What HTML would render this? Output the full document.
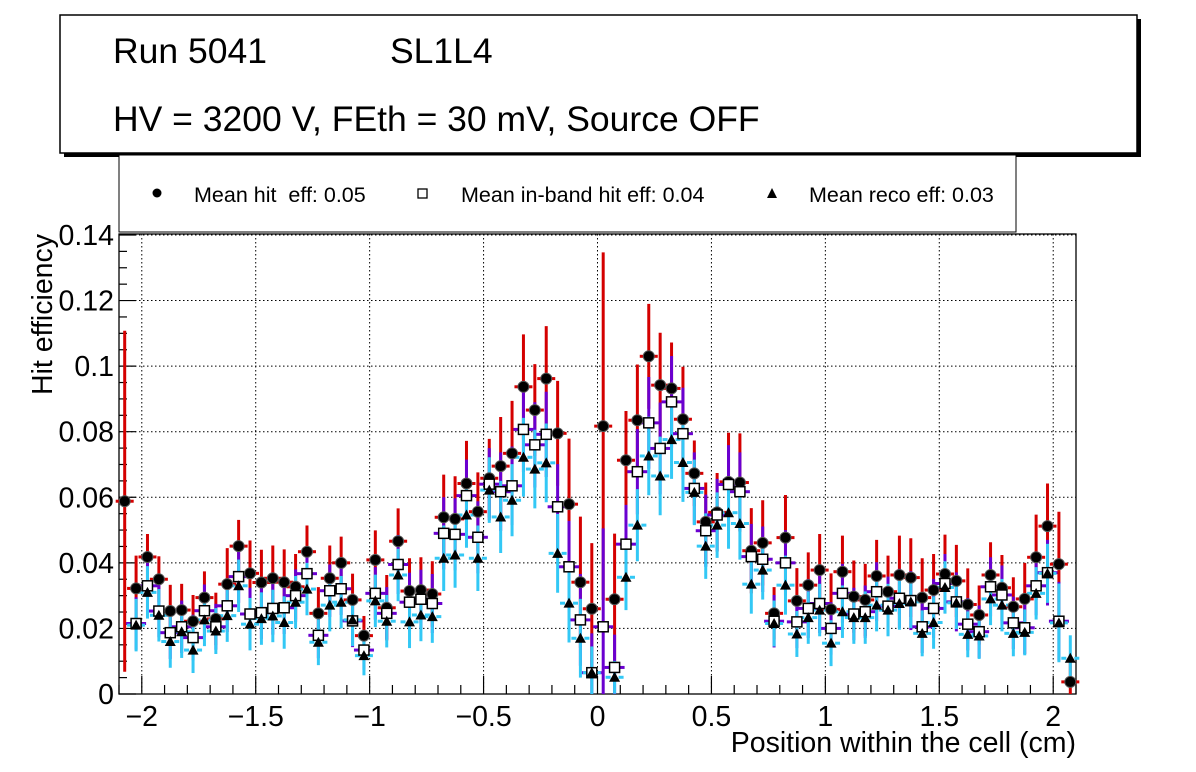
<!DOCTYPE html>
<html><head><meta charset="utf-8"><style>
html,body{margin:0;padding:0;background:#fff;}
svg{display:block;font-family:"Liberation Sans",sans-serif;}
</style></head><body>
<svg id="chart" width="1196" height="772" viewBox="0 0 1196 772" xmlns="http://www.w3.org/2000/svg">
<rect x="0" y="0" width="1196" height="772" fill="#fff"/>
<g>
<rect x="64" y="19" width="1077" height="138" fill="#000"/>
<rect x="60" y="15" width="1077" height="138" fill="#fff" stroke="#000" stroke-width="1.5"/>
<text x="113" y="63" font-size="35.5">Run 5041</text>
<text x="390" y="63" font-size="35.5">SL1L4</text>
<text x="113" y="131" font-size="35.5">HV = 3200 V, FEth = 30 mV, Source OFF</text>
</g>
<g>
<rect x="119" y="155" width="897" height="77" fill="#fff" stroke="#000" stroke-width="1"/>
<circle cx="157" cy="193" r="4.5" fill="#000"/>
<text x="194" y="202" font-size="21.5" style="white-space:pre" xml:space="preserve">Mean hit  eff: 0.05</text>
<rect x="418" y="189" width="9" height="9" fill="#fff" stroke="#000" stroke-width="1.3"/>
<text x="461" y="202" font-size="21.5">Mean in-band hit eff: 0.04</text>
<polygon points="772,188 767,198 777,198" fill="#000"/>
<text x="809" y="202" font-size="21.5">Mean reco eff: 0.03</text>
</g>
<g id="axes"></g>
<g id="marks"></g>
<text x="1076" y="752" font-size="28.5" text-anchor="end">Position within the cell (cm)</text>
<text transform="translate(52,395) rotate(-90)" font-size="28.5">Hit efficiency</text>
</svg>
<script>
const xTicks=[-2,-1.5,-1,-0.5,0,0.5,1,1.5,2];
const xTickLabels=["\u22122","\u22121.5","\u22121","\u22120.5","0","0.5","1","1.5","2"];
const yTicks=[0,0.02,0.04,0.06,0.08,0.1,0.12,0.14];
const yTickLabels=["0","0.02","0.04","0.06","0.08","0.1","0.12","0.14"];
const binStart=-2.075, binWidth=0.05;
const hitEff=[0.0588,0.0322,0.0418,0.035,0.0253,0.0256,0.0222,0.0294,0.0229,0.0335,0.0451,0.0368,0.034,0.0353,0.0341,0.0327,0.0434,0.0246,0.0353,0.040,0.0287,0.0178,0.0409,0.0263,0.0466,0.0314,0.0317,0.0305,0.0539,0.0534,0.0642,0.0556,0.0658,0.0695,0.0734,0.0937,0.0866,0.0962,0.0795,0.0579,0.0341,0.026,0.0817,0.0289,0.0713,0.0835,0.103,0.0942,0.0932,0.0838,0.0673,0.0525,0.0554,0.0647,0.0645,0.0437,0.0461,0.0246,0.0477,0.0284,0.0332,0.0378,0.0258,0.0373,0.0297,0.0287,0.036,0.0312,0.0363,0.0355,0.0294,0.0317,0.0366,0.0345,0.0273,0.0241,0.0363,0.0324,0.0266,0.029,0.0417,0.0512,0.0396,0.0037];
const hitErr=[0.052,0.010,0.007,0.007,0.008,0.008,0.008,0.008,0.008,0.011,0.008,0.010,0.010,0.010,0.010,0.010,0.008,0.008,0.010,0.008,0.008,0.006,0.009,0.010,0.010,0.010,0.010,0.010,0.013,0.013,0.013,0.012,0.012,0.015,0.016,0.016,0.014,0.016,0.016,0.020,0.020,0.020,0.053,0.020,0.015,0.017,0.016,0.016,0.014,0.016,0.010,0.012,0.012,0.015,0.015,0.013,0.013,0.008,0.013,0.010,0.010,0.011,0.011,0.011,0.011,0.011,0.011,0.011,0.012,0.012,0.012,0.011,0.012,0.011,0.011,0.009,0.010,0.010,0.009,0.011,0.013,0.013,0.016,0.006];
const inbandEff=[null,0.0215,0.033,0.0253,0.0187,0.0205,0.0172,0.0254,0.0205,0.0269,0.0358,0.0244,0.0248,0.0261,0.0263,0.030,0.0367,0.0179,0.0315,0.0321,0.0223,0.0134,0.0307,0.0246,0.0395,0.028,0.0289,0.0276,0.049,0.0487,0.0605,0.0478,0.064,0.0617,0.0635,0.0807,0.076,0.0792,0.0571,0.0388,0.0226,0.0065,0.0205,0.0081,0.0457,0.0678,0.0827,0.0749,0.0891,0.0794,0.0627,0.0498,0.0546,0.0639,0.0617,0.0419,0.0411,0.0222,0.040,0.022,0.0261,0.0276,0.020,0.0307,0.0244,0.0251,0.0312,0.0268,0.0292,0.0285,0.0205,0.0261,0.0337,0.0281,0.0213,0.019,0.0327,0.0302,0.0217,0.0202,0.033,0.037,0.0222,null];
const inbandErr=[0,0.008,0.008,0.008,0.008,0.008,0.007,0.008,0.007,0.008,0.008,0.008,0.008,0.008,0.008,0.008,0.008,0.007,0.008,0.008,0.008,0.006,0.008,0.008,0.009,0.009,0.009,0.009,0.011,0.011,0.011,0.011,0.011,0.012,0.012,0.013,0.013,0.013,0.013,0.014,0.014,0.012,0.030,0.010,0.012,0.013,0.014,0.014,0.014,0.014,0.011,0.011,0.011,0.012,0.012,0.010,0.010,0.008,0.010,0.008,0.009,0.009,0.008,0.009,0.008,0.008,0.009,0.009,0.009,0.009,0.008,0.009,0.009,0.009,0.008,0.008,0.009,0.009,0.008,0.008,0.009,0.010,0.012,0];
const recoEff=[null,0.021,0.031,0.024,0.016,0.019,0.0134,0.0226,0.0192,0.0239,0.033,0.0213,0.023,0.0238,0.0218,0.028,0.032,0.0158,0.0271,0.028,0.0226,0.0117,0.0284,0.0222,0.0363,0.022,0.0241,0.0236,0.0414,0.0424,0.0546,0.0414,0.0622,0.054,0.0591,0.0722,0.0686,0.0705,0.0429,0.0277,0.017,0.0065,null,0.0051,0.0356,0.0515,0.0726,0.0665,0.0776,0.0706,0.0615,0.0451,0.0515,0.0553,0.052,0.0335,0.0378,0.0215,0.0332,0.0183,0.0233,0.0256,0.0155,0.0251,0.0233,0.0233,0.0271,0.0256,0.0276,0.0281,0.0185,0.0218,0.0325,0.0278,0.0182,0.0177,0.029,0.0271,0.0185,0.0188,0.0307,0.0368,0.0217,0.0109];
const recoErr=[0,0.008,0.008,0.008,0.008,0.008,0.007,0.008,0.007,0.008,0.008,0.008,0.008,0.008,0.008,0.008,0.008,0.007,0.008,0.008,0.008,0.006,0.008,0.008,0.008,0.008,0.008,0.008,0.010,0.010,0.010,0.010,0.010,0.011,0.011,0.012,0.012,0.012,0.012,0.012,0.012,0.008,0,0.005,0.010,0.011,0.012,0.012,0.012,0.012,0.010,0.010,0.010,0.011,0.011,0.009,0.009,0.007,0.009,0.007,0.008,0.008,0.007,0.008,0.008,0.008,0.008,0.008,0.008,0.008,0.007,0.008,0.008,0.008,0.007,0.007,0.008,0.008,0.007,0.007,0.008,0.009,0.012,0.007];

const NS='http://www.w3.org/2000/svg';
const PL=119,PR=1076,PT=234,PB=694,XMIN=-2.1,XMAX=2.1,YMIN=0,YMAX=0.1403;
function xs(v){return PL+(v-XMIN)/(XMAX-XMIN)*(PR-PL);}
function ys(v){return PB-(v-YMIN)/(YMAX-YMIN)*(PB-PT);}
function mk(tag,attrs,parent){const e=document.createElementNS(NS,tag);for(const k in attrs)e.setAttribute(k,attrs[k]);parent.appendChild(e);return e;}
const axes=document.getElementById('axes'), marks=document.getElementById('marks');

xTicks.forEach(t=>{const g=mk('line',{x1:xs(t),x2:xs(t),y1:PT,y2:PB,stroke:'#000','stroke-width':1,'stroke-dasharray':'1.5,2.5'},axes);

});
yTicks.forEach(t=>{if(t===0)return;const g=mk('line',{x1:PL,x2:PR,y1:ys(t),y2:ys(t),stroke:'#000','stroke-width':1,'stroke-dasharray':'1.5,2.5'},axes);

});
const frame=mk('rect',{x:PL,y:PT,width:PR-PL,height:PB-PT,fill:'none',stroke:'#000','stroke-width':1.3},axes);


for(let k=-21;k<=21;k++){const v=k/10;const major=Math.abs(v*2-Math.round(v*2))<1e-6;
const t=mk('line',{x1:xs(v),x2:xs(v),y1:PB,y2:PB-(major?18:9),stroke:'#000','stroke-width':1.2},axes);

}
for(let k=0;k<=28;k++){const v=k*0.005;const major=k%4===0;
const t=mk('line',{x1:PL,x2:PL+(major?17:8),y1:ys(v),y2:ys(v),stroke:'#000','stroke-width':1.2},axes);

}
xTicks.forEach((t,i)=>{const e=mk('text',{x:xs(t),y:726,'font-size':28.5,'text-anchor':'middle'},axes);e.textContent=xTickLabels[i];

});
yTicks.forEach((t,i)=>{const e=mk('text',{x:114,y:ys(t)+10,'font-size':28.5,'text-anchor':'end'},axes);e.textContent=yTickLabels[i];

});

function clampY(v){return Math.max(PT,Math.min(PB,ys(v)));}
function errBar(cx,v,e,color,name,hw){
  const g=mk('g',{},marks);
  
  
  mk('line',{x1:cx,x2:cx,y1:clampY(v-e),y2:clampY(v+e),stroke:color,'stroke-width':3},g);
  mk('line',{x1:cx-hw-5,x2:cx-hw,y1:ys(v),y2:ys(v),stroke:color,'stroke-width':3},g);
  mk('line',{x1:cx+hw,x2:cx+hw+5,y1:ys(v),y2:ys(v),stroke:color,'stroke-width':3},g);
}
const n=hitEff.length;
for(let i=0;i<n;i++){const cx=xs(binStart+binWidth*i);
  if(hitEff[i]!==null) errBar(cx,hitEff[i],hitErr[i],'#d40000','hit-error-bar',4);
}
for(let i=0;i<n;i++){const cx=xs(binStart+binWidth*i);
  if(inbandEff[i]!==null) errBar(cx,inbandEff[i],inbandErr[i],'#6a00d0','inband-error-bar',5);
}
for(let i=0;i<n;i++){const cx=xs(binStart+binWidth*i);
  if(recoEff[i]!==null) errBar(cx,recoEff[i],recoErr[i],'#33c8f5','reco-error-bar',4);
}
for(let i=0;i<n;i++){const cx=xs(binStart+binWidth*i);
  if(hitEff[i]!==null){const c=mk('circle',{cx:cx,cy:ys(hitEff[i]),r:5.5,fill:'#000',stroke:'#555','stroke-width':1},marks);
  
  }
  if(inbandEff[i]!==null){const s=mk('rect',{x:cx-5,y:ys(inbandEff[i])-5,width:10,height:10,fill:'#fff',stroke:'#000','stroke-width':1.5},marks);
  
  }
  if(recoEff[i]!==null){const y=ys(recoEff[i]);const t=mk('polygon',{points:`${cx},${y-5.5} ${cx-5.5},${y+4.5} ${cx+5.5},${y+4.5}`,fill:'#000'},marks);
  
  }
}
</script>
</body></html>
